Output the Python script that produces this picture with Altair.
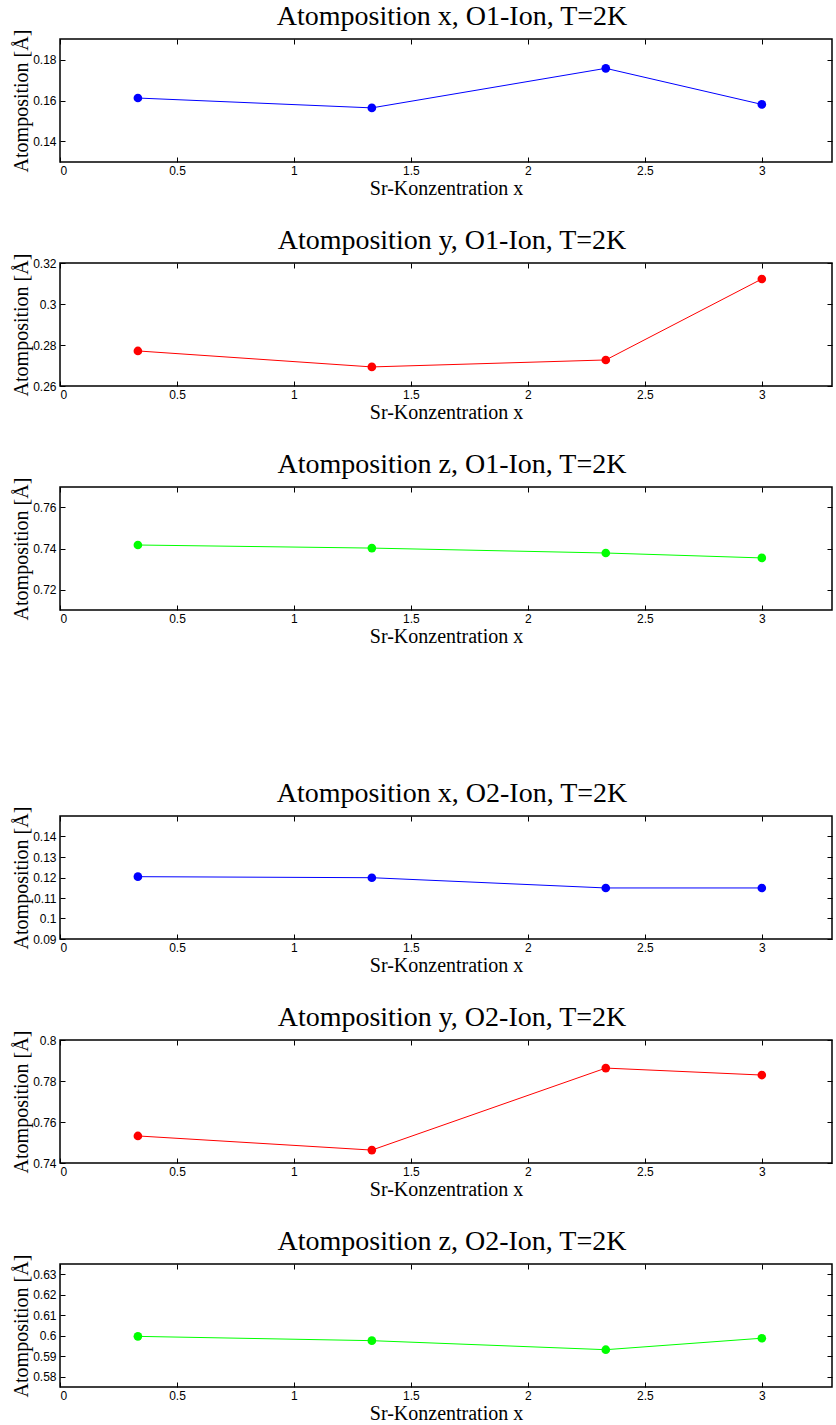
import altair as alt
import pandas as pd

# Sr concentration (x axis)
conc = [0.333, 1.333, 2.333, 3.0]

# atom positions
o1_x = [0.1612, 0.1564, 0.1757, 0.1581]
o1_y = [0.2771, 0.2693, 0.2727, 0.3122]
o1_z = [0.7417, 0.7402, 0.7378, 0.7354]
o2_x = [0.1204, 0.1199, 0.1149, 0.1149]
o2_y = [0.7532, 0.7463, 0.7863, 0.7829]
o2_z = [0.5997, 0.5976, 0.5932, 0.5988]

titles = [
    "Atomposition x, O1-Ion, T=2K",
    "Atomposition y, O1-Ion, T=2K",
    "Atomposition z, O1-Ion, T=2K",
    "Atomposition x, O2-Ion, T=2K",
    "Atomposition y, O2-Ion, T=2K",
    "Atomposition z, O2-Ion, T=2K",
]
series = [o1_x, o1_y, o1_z, o2_x, o2_y, o2_z]
colors = ["#0000ff", "#ff0000", "#00ff00", "#0000ff", "#ff0000", "#00ff00"]
y_domains = [
    [0.13, 0.19],
    [0.26, 0.32],
    [0.71, 0.77],
    [0.09, 0.15],
    [0.74, 0.80],
    [0.575, 0.635],
]
y_ticks = [
    [0.14, 0.16, 0.18],
    [0.26, 0.28, 0.30, 0.32],
    [0.72, 0.74, 0.76],
    [0.09, 0.10, 0.11, 0.12, 0.13, 0.14],
    [0.74, 0.76, 0.78, 0.80],
    [0.58, 0.59, 0.60, 0.61, 0.62, 0.63],
]
x_ticks = [0, 0.5, 1, 1.5, 2, 2.5, 3]
x_domain = [0, 3.3]

W, H = 772, 123


def panel(title, vals, color, ydom, yt):
    df = pd.DataFrame({"x": conc, "y": vals})
    base = alt.Chart(df)
    xs = alt.Scale(domain=x_domain, nice=False, zero=False)
    ys = alt.Scale(domain=ydom, nice=False, zero=False)
    main = base.mark_line(
        color=color,
        strokeWidth=1,
        point=alt.OverlayMarkDef(filled=True, size=75, color=color, opacity=1),
    ).encode(
        x=alt.X(
            "x:Q",
            scale=xs,
            axis=alt.Axis(
                orient="bottom",
                values=x_ticks,
                format="~g",
                title="Sr-Konzentration x",
                domain=False,
                grid=False,
                tickSize=5,
                offset=-5,
                labelPadding=3,
                titlePadding=2,
            ),
        ),
        y=alt.Y(
            "y:Q",
            scale=ys,
            axis=alt.Axis(
                orient="left",
                values=yt,
                format="~g",
                title="Atomposition [Å]",
                domain=False,
                grid=False,
                tickSize=5,
                offset=-5,
                labelPadding=4,
                minExtent=31,
                maxExtent=31,
                titlePadding=3,
            ),
        ),
    )
    frame = base.mark_point(opacity=0).encode(
        x=alt.X(
            "x:Q",
            scale=xs,
            axis=alt.Axis(
                orient="top",
                values=x_ticks,
                labels=False,
                title=None,
                domain=False,
                grid=False,
                tickSize=5,
                offset=-5,
                minExtent=0,
                maxExtent=0,
            ),
        ),
        y=alt.Y(
            "y:Q",
            scale=ys,
            axis=alt.Axis(
                orient="right",
                values=yt,
                labels=False,
                title=None,
                domain=False,
                grid=False,
                tickSize=5,
                offset=-5,
                minExtent=0,
                maxExtent=0,
            ),
        ),
    )
    return (
        alt.layer(main, frame)
        .resolve_axis(x="independent", y="independent")
        .properties(
            width=W,
            height=H,
            title=alt.TitleParams(
                text=title,
                font="Liberation Serif",
                fontSize=28,
                fontWeight="normal",
                color="black",
                anchor="middle",
                baseline="bottom",
                offset=-30,
                dx=6,
            ),
        )
    )


charts = [panel(t, s, c, d, yt) for t, s, c, d, yt in zip(titles, series, colors, y_domains, y_ticks)]

top = alt.vconcat(*charts[:3], spacing=27)
bottom = alt.vconcat(*charts[3:], spacing=27)

chart = (
    alt.vconcat(top, bottom, spacing=132)
    .properties(padding={"left": 10, "top": 2, "right": 0, "bottom": 0}, background="white")
    .configure_view(stroke="black", strokeWidth=1.5)
    .configure_axis(
        labelFont="Liberation Sans",
        labelFontSize=12,
        labelColor="black",
        titleFont="Liberation Serif",
        titleFontSize=20,
        titleFontWeight="normal",
        titleColor="black",
        tickColor="black",
        tickWidth=1,
    )
)

chart.save("out.html", embed_options={"renderer": "svg", "actions": False})
